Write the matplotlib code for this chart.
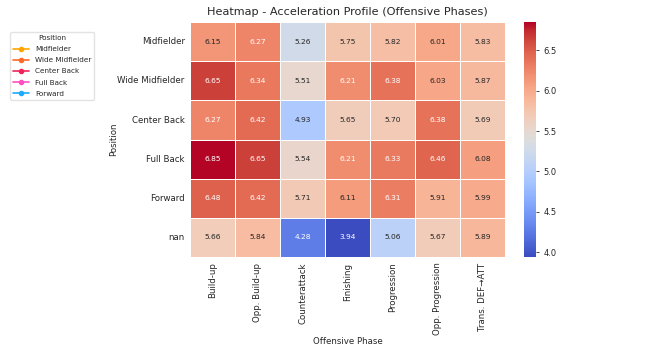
import numpy as np
import matplotlib.pyplot as plt
import seaborn as sns
from matplotlib.lines import Line2D

positions = ['Midfielder', 'Wide Midfielder', 'Center Back', 'Full Back', 'Forward', 'nan']
phases = ['Build-up', 'Opp. Build-up', 'Counterattack', 'Finishing', 'Progression',
          'Opp. Progression', 'Trans. DEF\u2192ATT']

midfielder = [6.15, 6.27, 5.26, 5.75, 5.82, 6.01, 5.83]
wide_midfielder = [6.65, 6.34, 5.51, 6.21, 6.38, 6.03, 5.87]
center_back = [6.27, 6.42, 4.93, 5.65, 5.70, 6.38, 5.69]
full_back = [6.85, 6.65, 5.54, 6.21, 6.33, 6.46, 6.08]
forward = [6.48, 6.42, 5.71, 6.11, 6.31, 5.91, 5.99]
unknown = [5.66, 5.84, 4.28, 3.94, 5.06, 5.67, 5.89]

legend_names = ['Midfielder', 'Wide Midfielder', 'Center Back', 'Full Back', 'Forward']
legend_colors = ['#ffa500', '#ff6a2a', '#f0245a', '#ff4fc0', '#1eaaff']

data = np.array([midfielder, wide_midfielder, center_back, full_back, forward, unknown])

sns.set_style('white')
text_col = '#262626'
plt.rcParams['text.color'] = text_col
plt.rcParams['axes.labelcolor'] = text_col
plt.rcParams['xtick.color'] = text_col
plt.rcParams['ytick.color'] = text_col

fig = plt.figure(figsize=(6.7, 3.57), dpi=100)
ax = fig.add_axes([0.284, 0.28, 0.47, 0.658])
cax = fig.add_axes([0.782, 0.28, 0.018, 0.658])

sns.heatmap(data, ax=ax, cbar_ax=cax, cmap='coolwarm', annot=True, fmt='.2f',
            linewidths=0.6, linecolor='white', annot_kws={'size': 5.4},
            xticklabels=phases, yticklabels=positions)
ax.tick_params(axis='both', labelsize=6.2, length=2, width=0.6, pad=2)
ax.tick_params(axis='x', rotation=90)
ax.tick_params(axis='y', rotation=0)
ax.set_xlabel('Offensive Phase', fontsize=6.2, labelpad=1)
ax.set_ylabel('Position', fontsize=6.2)
ax.yaxis.set_label_coords(-0.23, 0.5)
ax.set_title('Heatmap - Acceleration Profile (Offensive Phases)', fontsize=8.1, pad=5)
cax.tick_params(labelsize=6, length=2, width=0.6)

handles = [Line2D([0], [0], color=c, marker='o', markersize=3, linewidth=1.2)
           for c in legend_colors]
leg = fig.legend(handles, legend_names, title='Position', loc='upper left',
                 bbox_to_anchor=(0.01, 0.92), fontsize=5.2, title_fontsize=5.2,
                 frameon=True, handlelength=2.2, labelspacing=0.7)
leg.get_frame().set_edgecolor('#dddddd')

fig.savefig('out.png', dpi=100)
